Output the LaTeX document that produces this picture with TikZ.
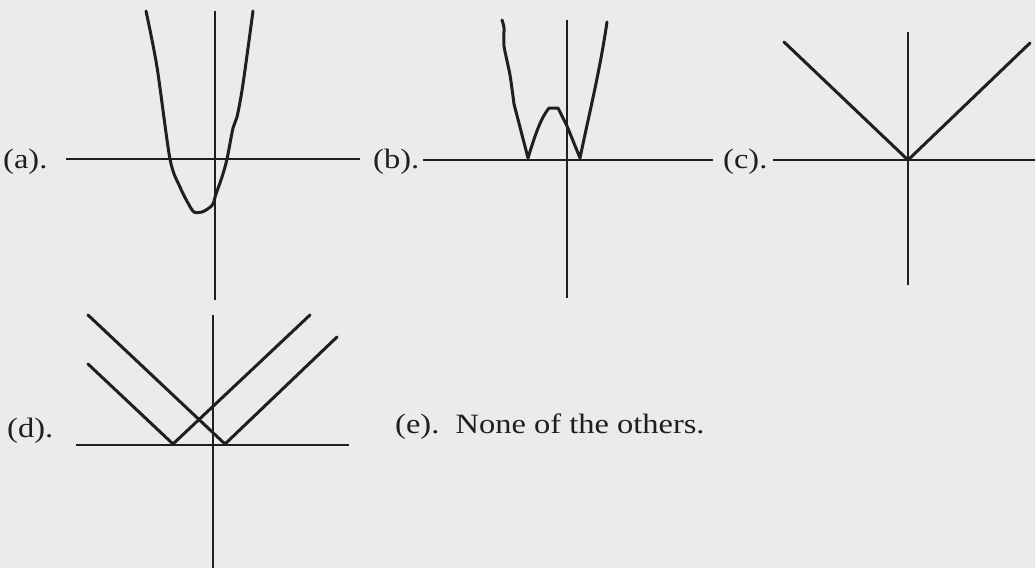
\documentclass[tikz,border=0pt]{standalone}
\usepackage{fontspec}
\setmainfont{Liberation Serif}
\newcommand{\wide}[1]{\scalebox{1.16}[1]{#1}}
\begin{document}
\begin{tikzpicture}[x=1pt,y=-1pt,
  axis/.style={line width=2.8pt,color=black!88},
  curve/.style={line width=3pt,color=black!88,line join=round,line cap=round},
  lab/.style={font=\fontsize{28}{32}\selectfont,anchor=base west,inner sep=0pt,text=black!88}]
\fill[black!8] (0,0) rectangle (1035,568);
\useasboundingbox (0,0) rectangle (1035,568);
% (a)
\node[lab] (la) at (3,168) {\wide{(a).}};
\coordinate (ahl) at (66,159); \coordinate (ahr) at (360,159);
\coordinate (avt) at (215,11); \coordinate (avb) at (215,300);
\draw[axis] (ahl) -- (ahr);
\draw[axis] (avt) -- (avb);
\draw[curve] plot[smooth,tension=0.5] coordinates {(146,11) (157,67) (170,159) (180,187) (188,203) (194,212) (202,212) (209,208) (213,204) (216,194) (222,177) (227,159) (233,128) (237,117) (243,84) (253,11)};
% (b)
\node[lab] (lb) at (373,168) {\wide{(b).}};
\coordinate (bhl) at (423,160); \coordinate (bhr) at (713,160);
\coordinate (bvt) at (567,20); \coordinate (bvb) at (567,298);
\draw[axis] (bhl) -- (bhr);
\draw[axis] (bvt) -- (bvb);
\draw[curve] plot[smooth,tension=0.4] coordinates {(502,20) (504,28) (504,46) (510,75) (514,104)} -- (528,158)
  .. controls (536,132) and (541,118) .. (549,108) -- (558,108) -- (567,126) -- (580,158)
  .. controls (590,110) and (600,70) .. (607,22);
% (c)
\node[lab] (lc) at (723,168) {\wide{(c).}};
\coordinate (chl) at (773,160); \coordinate (chr) at (1035,160);
\coordinate (cvt) at (908,32); \coordinate (cvb) at (908,285);
\coordinate (cv) at (908,160);
\draw[axis] (chl) -- (chr);
\draw[axis] (cvt) -- (cvb);
\draw[curve] (784,42) -- (cv) -- (1030,43);
% (d)
\node[lab] (ld) at (7,437) {\wide{(d).}};
\coordinate (dhl) at (76,445); \coordinate (dhr) at (349,445);
\coordinate (dvt) at (213,315); \coordinate (dvb) at (213,568);
\draw[axis] (dhl) -- (dhr);
\draw[axis] (dvt) -- (dvb);
\draw[curve] (88,364) -- (173,444) -- (310,315);
\draw[curve] (88,315) -- (225,444) -- (337,337);
% (e)
\node[lab] (le) at (395,433) {\wide{(e).\ \ None of the others.}};
\end{tikzpicture}
\end{document}
